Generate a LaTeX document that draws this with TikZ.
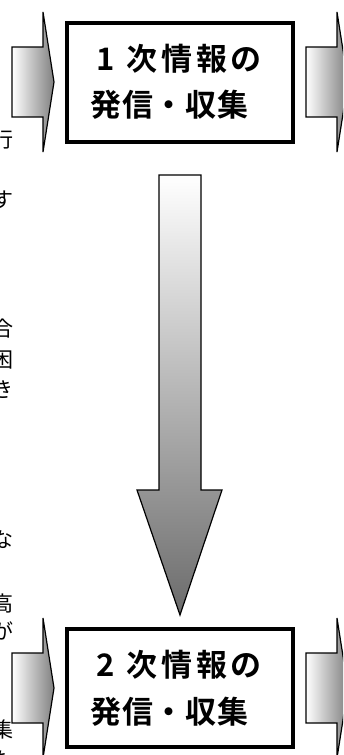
\documentclass[tikz,border=0pt]{standalone}
\usepackage{fontspec}
\newfontfamily\jp{Noto Sans CJK JP}
\newfontfamily\jpbA{Noto Sans CJK JP Bold}[LetterSpace=12]
\newfontfamily\jpbB{Noto Sans CJK JP Bold}[LetterSpace=2]
\newfontfamily\jpbN{Noto Sans CJK JP Bold}
\tikzset{
  harrow/.style={draw=black, line width=1.2pt, left color=white, right color=black!50},
  varrow/.style={draw=black, line width=1.2pt, top color=white, bottom color=black!58},
  infobox/.style={draw=black, line width=3.5pt, fill=white},
  boxtextA/.style={anchor=base west, inner sep=0pt, font=\jpbA\fontsize{31}{31}\selectfont},
  boxtextB/.style={anchor=base west, inner sep=0pt, font=\jpbB\fontsize{31}{31}\selectfont},
  boxnum/.style={anchor=base, inner sep=0pt, font=\jpbN\fontsize{31}{31}\selectfont},
  sidechar/.style={anchor=base east, inner sep=0pt, font=\jp\fontsize{21}{21}\selectfont}
}
\begin{document}
\begin{tikzpicture}[x=1pt,y=-1pt]
\useasboundingbox (0,0) rectangle (343,755);
\clip (0,0) rectangle (343,755);
\fill[white] (0,0) rectangle (343,755);

% clipped side text (cut off at the left edge, as in the reference)
\node[sidechar] (c1) at (13.5,147) {行};
\node[sidechar] (c2) at (13.5,207) {す};
\node[sidechar] (c3) at (13.5,336) {合};
\node[sidechar] (c4) at (13.5,367) {困};
\node[sidechar] (c5) at (13.5,397) {き};
\node[sidechar] (c6) at (13.5,547) {な};
\node[sidechar] (c7) at (13.5,611) {高};
\node[sidechar] (c8) at (13.5,639) {が};
\node[sidechar] (c9) at (13.5,737) {集};
\node[sidechar] (c10) at (13.5,767) {た};

% horizontal block arrows
\path[harrow] (12,47) -- (43,47) -- (43,12) -- (54,82) -- (43,152) -- (43,117) -- (12,117) -- cycle;
\path[harrow] (306,47) -- (337,47) -- (337,12) -- (348,82) -- (337,152) -- (337,117) -- (306,117) -- cycle;
\path[harrow] (12,653) -- (43,653) -- (43,618) -- (54,688) -- (43,758) -- (43,723) -- (12,723) -- cycle;
\path[harrow] (306,653) -- (337,653) -- (337,618) -- (348,688) -- (337,758) -- (337,723) -- (306,723) -- cycle;

% vertical block arrow
\path[varrow] (159,175) -- (201,175) -- (201,490) -- (222,490) -- (180,615) -- (137,490) -- (159,490) -- cycle;

% boxes
\node[infobox, minimum width=226pt, minimum height=119pt, inner sep=0pt] (box1) at (180,82.5) {};
\node[infobox, minimum width=226pt, minimum height=118pt, inner sep=0pt] (box2) at (180,688) {};

\node[boxnum] (n1) at (106,70) {1};
\node[boxtextA] (t1a) at (126.5,70) {次情報の};
\node[boxtextB] (t1b) at (90.5,116) {発信・収集};
\node[boxnum] (n2) at (106,676) {2};
\node[boxtextA] (t2a) at (126.5,676) {次情報の};
\node[boxtextB] (t2b) at (90.5,723) {発信・収集};
\end{tikzpicture}
\end{document}
